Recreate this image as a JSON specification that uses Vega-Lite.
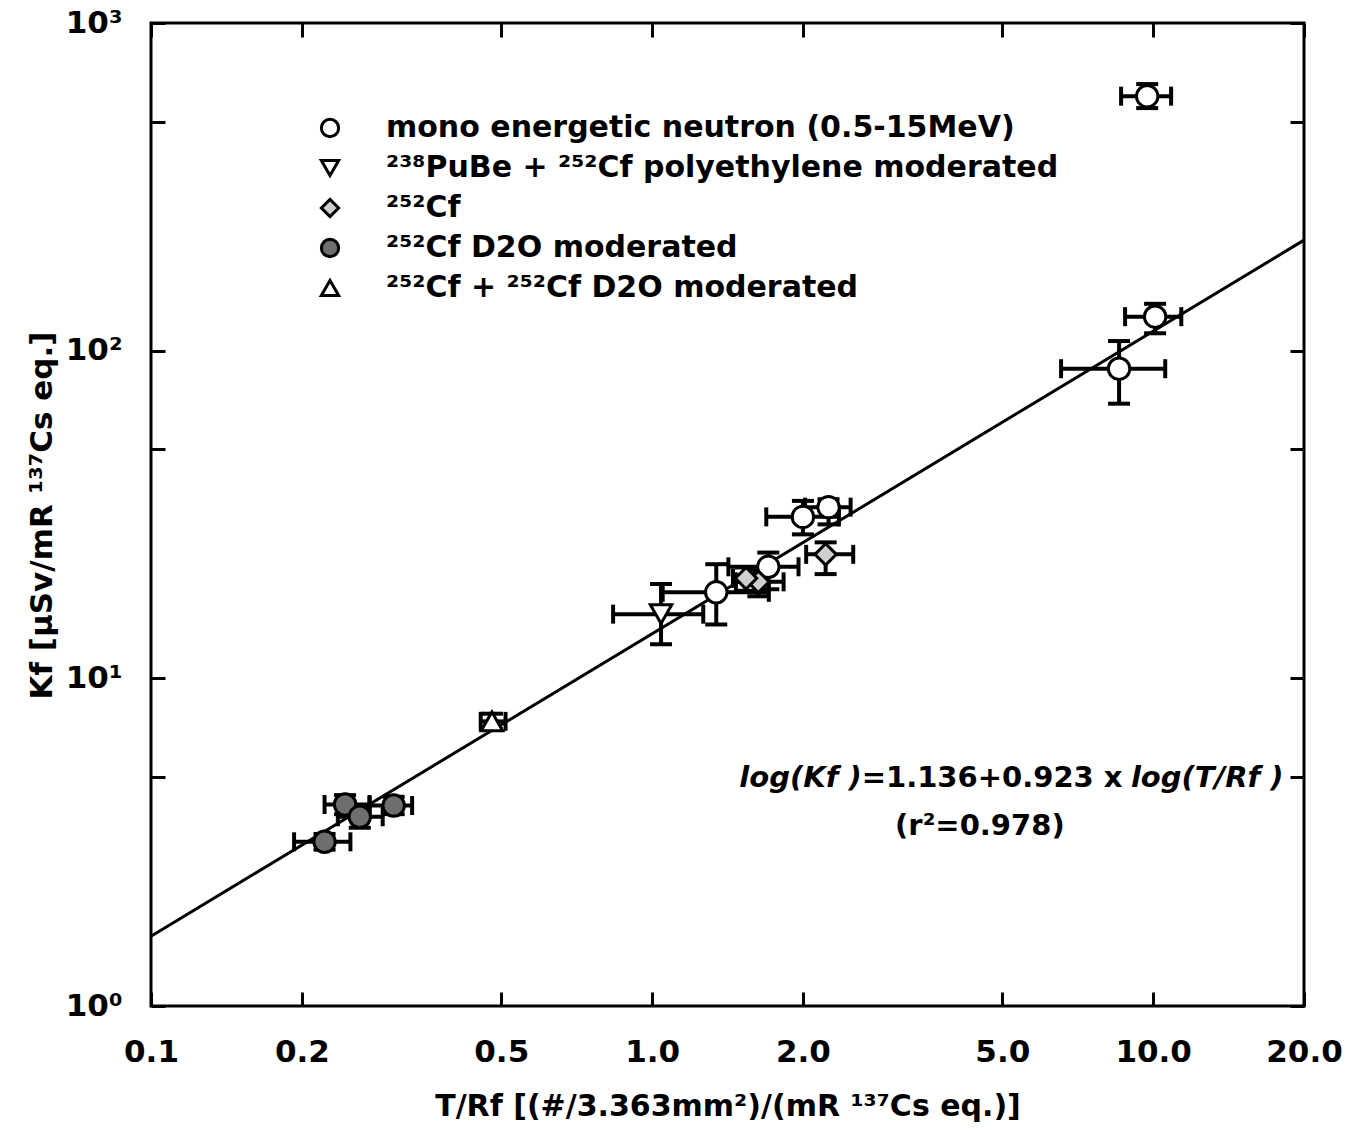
{
  "$schema": "https://vega.github.io/schema/vega-lite/v6.json",
  "width": 1153,
  "height": 983,
  "autosize": {"type": "none"},
  "padding": {"left": 151, "top": 23, "right": 44, "bottom": 138},
  "background": "white",
  "config": {
    "view": {"stroke": "black", "strokeWidth": 3},
    "axis": {
      "domain": false,
      "grid": false,
      "tickColor": "black",
      "tickWidth": 3,
      "tickSize": -14,
      "labelFont": "DejaVu Sans",
      "labelFontWeight": "bold",
      "labelFontSize": 31,
      "labelColor": "black",
      "titleFont": "DejaVu Sans",
      "titleFontWeight": "bold",
      "titleFontSize": 30,
      "titleColor": "black",
      "labelOverlap": false,
      "labelFlush": false
    }
  },
  "datasets": {
    "fit": [
      {"x": 0.1, "y": 1.633},
      {"x": 20, "y": 217.4}
    ],
    "pts": [
      {"series": "mono energetic neutron (0.5-15MeV)", "x": 9.73, "y": 598, "xlo": 8.63, "xhi": 10.86, "ylo": 550, "yhi": 651},
      {"series": "mono energetic neutron (0.5-15MeV)", "x": 10.09, "y": 127, "xlo": 8.79, "xhi": 11.38, "ylo": 113, "yhi": 139},
      {"series": "mono energetic neutron (0.5-15MeV)", "x": 8.55, "y": 88.1, "xlo": 6.55, "xhi": 10.57, "ylo": 68.9, "yhi": 107},
      {"series": "mono energetic neutron (0.5-15MeV)", "x": 2.25, "y": 33.3, "xlo": 2.02, "xhi": 2.49, "ylo": 29.5, "yhi": 35.2},
      {"series": "mono energetic neutron (0.5-15MeV)", "x": 2.0, "y": 31.1, "xlo": 1.69, "xhi": 2.36, "ylo": 27.5, "yhi": 34.8},
      {"series": "mono energetic neutron (0.5-15MeV)", "x": 1.706, "y": 21.9, "xlo": 1.42, "xhi": 1.96, "ylo": 18.7, "yhi": 24.2},
      {"series": "mono energetic neutron (0.5-15MeV)", "x": 1.343, "y": 18.3, "xlo": 1.05, "xhi": 1.71, "ylo": 14.6, "yhi": 22.3},
      {"series": "²³⁸PuBe + ²⁵²Cf polyethylene moderated", "x": 1.042, "y": 15.7, "xlo": 0.836, "xhi": 1.265, "ylo": 12.7, "yhi": 19.4},
      {"series": "²⁵²Cf", "x": 2.22, "y": 23.9, "xlo": 2.03, "xhi": 2.52, "ylo": 20.8, "yhi": 26.0},
      {"series": "²⁵²Cf", "x": 1.63, "y": 19.7, "xlo": 1.47, "xhi": 1.83, "ylo": 17.8, "yhi": 21.5},
      {"series": "²⁵²Cf", "x": 1.54, "y": 20.2, "xlo": 1.45, "xhi": 1.66, "ylo": 18.5, "yhi": 21.8},
      {"series": "²⁵²Cf D2O moderated", "x": 0.244, "y": 4.12, "xlo": 0.222, "xhi": 0.273, "ylo": 3.85, "yhi": 4.4},
      {"series": "²⁵²Cf D2O moderated", "x": 0.261, "y": 3.78, "xlo": 0.236, "xhi": 0.29, "ylo": 3.5, "yhi": 4.05},
      {"series": "²⁵²Cf D2O moderated", "x": 0.305, "y": 4.09, "xlo": 0.273, "xhi": 0.332, "ylo": 3.85, "yhi": 4.35},
      {"series": "²⁵²Cf D2O moderated", "x": 0.222, "y": 3.17, "xlo": 0.193, "xhi": 0.25, "ylo": 3.0, "yhi": 3.35},
      {"series": "²⁵²Cf + ²⁵²Cf D2O moderated", "x": 0.479, "y": 7.39, "xlo": 0.455, "xhi": 0.51, "ylo": 7.0, "yhi": 7.8}
    ],
    "notes": [
      {"t": "log(Kf )", "x": 2.62, "y": 4.96, "kind": "italicR"},
      {"t": "=1.136+0.923 x", "x": 2.62, "y": 4.96, "kind": "normalL"},
      {"t": "log(T/Rf )", "x": 18.2, "y": 4.96, "kind": "italicR"},
      {"t": "(r²=0.978)", "x": 4.51, "y": 3.54, "kind": "normalC"}
    ]
  },
  "resolve": {"axis": {"x": "independent", "y": "independent"}},
  "layer": [
    {
      "data": {"name": "fit"},
      "mark": {"type": "line", "color": "black", "strokeWidth": 3},
      "encoding": {
        "x": {
          "field": "x", "type": "quantitative",
          "scale": {"type": "log", "domain": [0.1, 20], "nice": false},
          "axis": {
            "orient": "bottom",
            "values": [0.1, 0.2, 0.5, 1, 2, 5, 10, 20],
            "format": ".1f",
            "labelPadding": 45,
            "title": "T/Rf  [(#/3.363mm²)/(mR ¹³⁷Cs eq.)]",
            "titlePadding": 24
          }
        },
        "y": {
          "field": "y", "type": "quantitative",
          "scale": {"type": "log", "domain": [1, 1000], "nice": false},
          "axis": {
            "orient": "left",
            "values": [1, 5, 10, 50, 100, 500, 1000],
            "labelExpr": "datum.value == 1 ? '10⁰' : datum.value == 10 ? '10¹' : datum.value == 100 ? '10²' : datum.value == 1000 ? '10³' : ''",
            "labelPadding": 43,
            "title": "Kf  [µSv/mR ¹³⁷Cs eq.]",
            "titleFontSize": 31,
            "titleX": -109,
            "titleY": 492,
            "titleAngle": -90,
            "titleAlign": "center",
            "titleBaseline": "middle"
          }
        }
      }
    },
    {
      "data": {"name": "pts"},
      "mark": {"type": "rule", "color": "black", "strokeWidth": 4},
      "encoding": {
        "x": {
          "field": "xlo", "type": "quantitative",
          "axis": {"orient": "top", "values": [0.1, 0.2, 0.5, 1, 2, 5, 10, 20], "labels": false, "title": null}
        },
        "x2": {"field": "xhi"},
        "y": {
          "field": "y", "type": "quantitative",
          "axis": {"orient": "right", "values": [1, 5, 10, 50, 100, 500, 1000], "labels": false, "title": null}
        }
      }
    },
    {
      "data": {"name": "pts"},
      "mark": {"type": "rule", "color": "black", "strokeWidth": 4},
      "encoding": {
        "x": {"field": "x", "type": "quantitative", "axis": null},
        "y": {"field": "ylo", "type": "quantitative", "axis": null},
        "y2": {"field": "yhi"}
      }
    },
    {
      "data": {"name": "pts"},
      "mark": {"type": "tick", "orient": "vertical", "size": 19, "thickness": 4, "color": "black", "opacity": 1},
      "encoding": {
        "x": {"field": "xlo", "type": "quantitative", "axis": null},
        "y": {"field": "y", "type": "quantitative", "axis": null}
      }
    },
    {
      "data": {"name": "pts"},
      "mark": {"type": "tick", "orient": "vertical", "size": 19, "thickness": 4, "color": "black", "opacity": 1},
      "encoding": {
        "x": {"field": "xhi", "type": "quantitative", "axis": null},
        "y": {"field": "y", "type": "quantitative", "axis": null}
      }
    },
    {
      "data": {"name": "pts"},
      "mark": {"type": "tick", "orient": "horizontal", "size": 22, "thickness": 4, "color": "black", "opacity": 1},
      "encoding": {
        "x": {"field": "x", "type": "quantitative", "axis": null},
        "y": {"field": "ylo", "type": "quantitative", "axis": null}
      }
    },
    {
      "data": {"name": "pts"},
      "mark": {"type": "tick", "orient": "horizontal", "size": 22, "thickness": 4, "color": "black", "opacity": 1},
      "encoding": {
        "x": {"field": "x", "type": "quantitative", "axis": null},
        "y": {"field": "yhi", "type": "quantitative", "axis": null}
      }
    },
    {
      "data": {"name": "pts"},
      "mark": {"type": "point", "filled": true, "stroke": "black", "strokeWidth": 3, "size": 460, "opacity": 1},
      "encoding": {
        "x": {"field": "x", "type": "quantitative", "axis": null},
        "y": {"field": "y", "type": "quantitative", "axis": null},
        "shape": {
          "field": "series", "type": "nominal",
          "scale": {
            "domain": ["mono energetic neutron (0.5-15MeV)", "²³⁸PuBe + ²⁵²Cf polyethylene moderated", "²⁵²Cf", "²⁵²Cf D2O moderated", "²⁵²Cf + ²⁵²Cf D2O moderated"],
            "range": ["circle", "triangle-down", "diamond", "circle", "triangle-up"]
          },
          "legend": {
            "orient": "none", "legendX": 164, "legendY": 90, "title": null,
            "labelFont": "DejaVu Sans", "labelFontSize": 30, "labelFontWeight": "bold", "labelColor": "black",
            "labelOffset": 41, "labelLimit": 1000, "symbolSize": 300, "symbolStrokeWidth": 3, "symbolStrokeColor": "black",
            "rowPadding": 10, "padding": 0,
            "symbolOpacity": 1,
            "encode": {"symbols": {"update": {"stroke": {"value": "black"}, "strokeWidth": {"value": 3}, "opacity": {"value": 1}}}}
          }
        },
        "fill": {
          "field": "series", "type": "nominal",
          "scale": {
            "domain": ["mono energetic neutron (0.5-15MeV)", "²³⁸PuBe + ²⁵²Cf polyethylene moderated", "²⁵²Cf", "²⁵²Cf D2O moderated", "²⁵²Cf + ²⁵²Cf D2O moderated"],
            "range": ["white", "white", "#cfcfcf", "#6e6e6e", "white"]
          },
          "legend": {
            "orient": "none", "legendX": 164, "legendY": 90, "title": null,
            "labelFont": "DejaVu Sans", "labelFontSize": 30, "labelFontWeight": "bold", "labelColor": "black",
            "labelOffset": 41, "labelLimit": 1000, "symbolSize": 300, "symbolStrokeWidth": 3, "symbolStrokeColor": "black",
            "rowPadding": 10, "padding": 0,
            "symbolOpacity": 1,
            "encode": {"symbols": {"update": {"stroke": {"value": "black"}, "strokeWidth": {"value": 3}, "opacity": {"value": 1}}}}
          }
        }
      }
    },
    {
      "data": {"name": "notes"},
      "transform": [{"filter": "datum.kind == 'italicR'"}],
      "mark": {"type": "text", "font": "DejaVu Sans", "fontSize": 29, "fontWeight": "bold", "fontStyle": "italic", "align": "right", "baseline": "middle", "color": "black"},
      "encoding": {
        "x": {"field": "x", "type": "quantitative", "axis": null},
        "y": {"field": "y", "type": "quantitative", "axis": null},
        "text": {"field": "t"}
      }
    },
    {
      "data": {"name": "notes"},
      "transform": [{"filter": "datum.kind == 'normalL'"}],
      "mark": {"type": "text", "font": "DejaVu Sans", "fontSize": 29, "fontWeight": "bold", "align": "left", "baseline": "middle", "color": "black"},
      "encoding": {
        "x": {"field": "x", "type": "quantitative", "axis": null},
        "y": {"field": "y", "type": "quantitative", "axis": null},
        "text": {"field": "t"}
      }
    },
    {
      "data": {"name": "notes"},
      "transform": [{"filter": "datum.kind == 'normalC'"}],
      "mark": {"type": "text", "font": "DejaVu Sans", "fontSize": 29, "fontWeight": "bold", "align": "center", "baseline": "middle", "color": "black"},
      "encoding": {
        "x": {"field": "x", "type": "quantitative", "axis": null},
        "y": {"field": "y", "type": "quantitative", "axis": null},
        "text": {"field": "t"}
      }
    }
  ]
}
